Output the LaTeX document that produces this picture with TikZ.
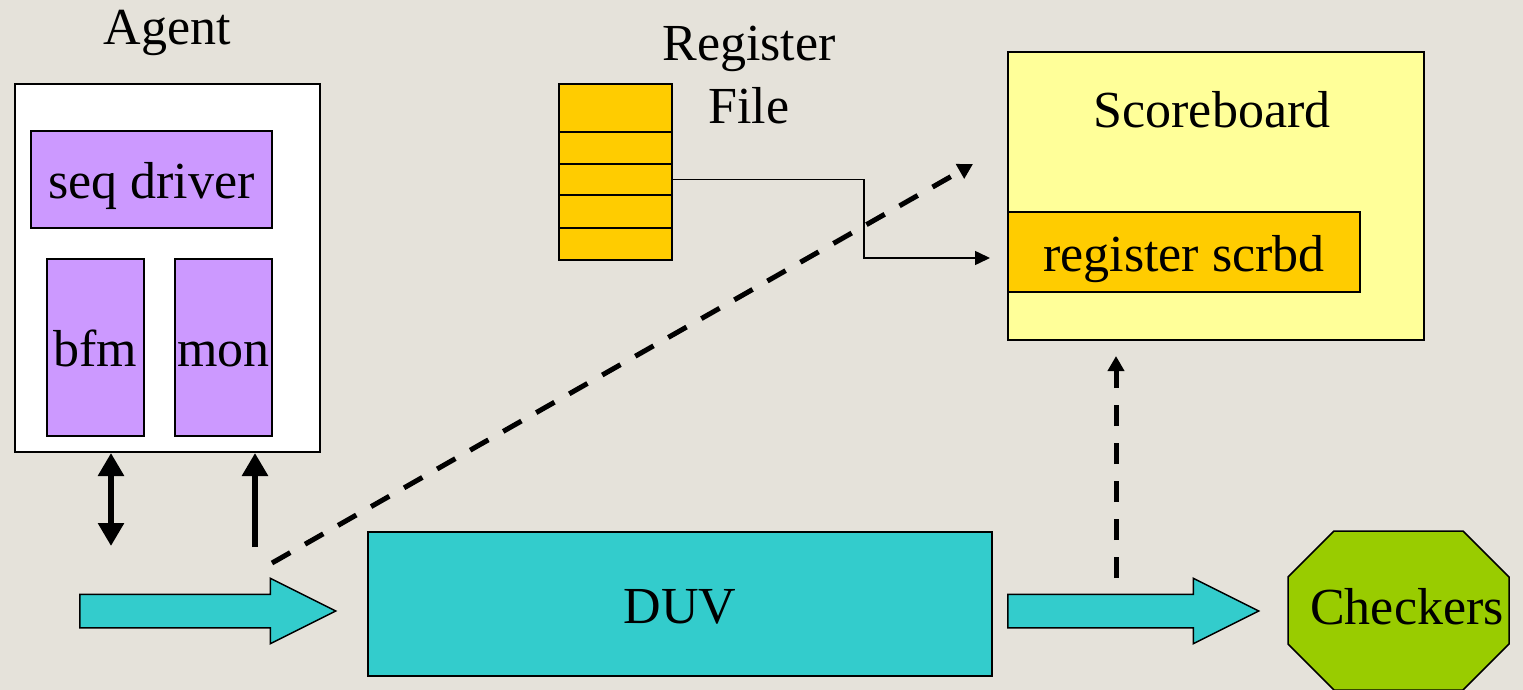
\documentclass[tikz,border=0pt]{standalone}
\usepackage{fontspec}
\setmainfont{Liberation Serif}
\definecolor{bgrey}{HTML}{E5E2DA}
\definecolor{lilac}{HTML}{CC99FF}
\definecolor{gold}{HTML}{FFCC00}
\definecolor{pyellow}{HTML}{FFFF99}
\definecolor{duvc}{HTML}{33CCCC}
\definecolor{chk}{HTML}{99CC00}
\usetikzlibrary{arrows.meta}
\usetikzlibrary{shapes.arrows}

\begin{document}
\begin{tikzpicture}[x=1pt, y=-1pt, font=\fontsize{52}{63}\selectfont,
	box/.style={draw, line width=2pt, inner sep=0pt, text height=38pt, text depth=0pt, anchor=north west},
	blockarr/.style={single arrow, draw, line width=1.5pt, fill=duvc, inner xsep=0pt, inner ysep=16pt,
		single arrow head extend=16pt, single arrow tip angle=53.13, anchor=tail},
	thickarr/.style={line width=6.5pt},
	dasharr/.style={line width=5pt, dash pattern=on 21pt off 17pt, -{Triangle[width=16pt,length=15pt]}},
	thinarr/.style={line width=1.5pt, -{Triangle[width=14pt,length=15pt]}}]
	\useasboundingbox (0,0) rectangle (1523,690);
	\fill[bgrey] (0,0) rectangle (1523,690);
	% agent
	\node[anchor=base] (agentlbl) at (167,45) {Agent};
	\node[box, fill=white, minimum width=305pt, minimum height=368pt] (agent) at (14,83) {};
	\node[box, fill=lilac, minimum width=241pt, minimum height=97pt] (seqdrv) at (30,130) {seq driver};
	\node[box, fill=lilac, minimum width=97pt, minimum height=177pt] (bfm) at (46,258) {bfm};
	\node[box, fill=lilac, minimum width=97pt, minimum height=177pt] (mon) at (174,258) {mon};
	% register file
	\node[anchor=base, align=center] (rflbl) at (749,124) {Register\\File};
	\foreach \y/\h [count=\i] in {83/48, 131/32, 163/31, 194/33, 227/32}
	\node[box, text height=0pt, fill=gold, minimum width=113pt, minimum height=\h pt] (rf\i) at (558,\y) {};
	% scoreboard
	\node[box, fill=pyellow, minimum width=416pt, minimum height=288pt] (scoreboard) at (1007,51) {};
	\node[anchor=base] (sblbl) at (1212,128) {Scoreboard};
	\node[box, fill=gold, minimum width=352pt, minimum height=80pt] (regscr) at (1007,211) {register scrbd};
	% duv and checkers
	\node[box, fill=duvc, minimum width=624pt, minimum height=144pt] (duv) at (367,531) {DUV};
	\filldraw[fill=chk, line width=1.5pt] (1334,531) -- (1463,531) -- (1509,577) -- (1509,644) -- (1463,690)
		-- (1334,690) -- (1288,644) -- (1288,577) -- cycle;
	\node[anchor=base] (checkers) at (1407,624) {Checkers};
	\node[blockarr, minimum height=256pt] (inarr) at (79,611) {};
	\node[blockarr, minimum height=251pt] (outarr) at (1007,611) {};
	% connectors
	\coordinate (bfmend) at (111,546);
	\coordinate (monend) at (255,547);
	\draw[thickarr, {Triangle[width=25pt,length=23pt]}-{Triangle[width=25pt,length=23pt]}] (bfmend) -- (bfmend |- agent.south);
	\draw[thickarr, -{Triangle[width=25pt,length=23pt]}] (monend) -- (monend |- agent.south);
	\coordinate (tapin) at (272,563);
	\coordinate (sbin) at (973,164);
	\draw[dasharr] (tapin) -- (sbin);
	\coordinate (tapout) at (1116,578);
	\coordinate (sbout) at (1116,356);
	\draw[dasharr] (tapout) -- (sbout);
	\coordinate (rsin) at (990,258);
	\draw[thinarr] (rf3.east) -- ++(191,0) |- (rsin);
\end{tikzpicture}
\end{document}
